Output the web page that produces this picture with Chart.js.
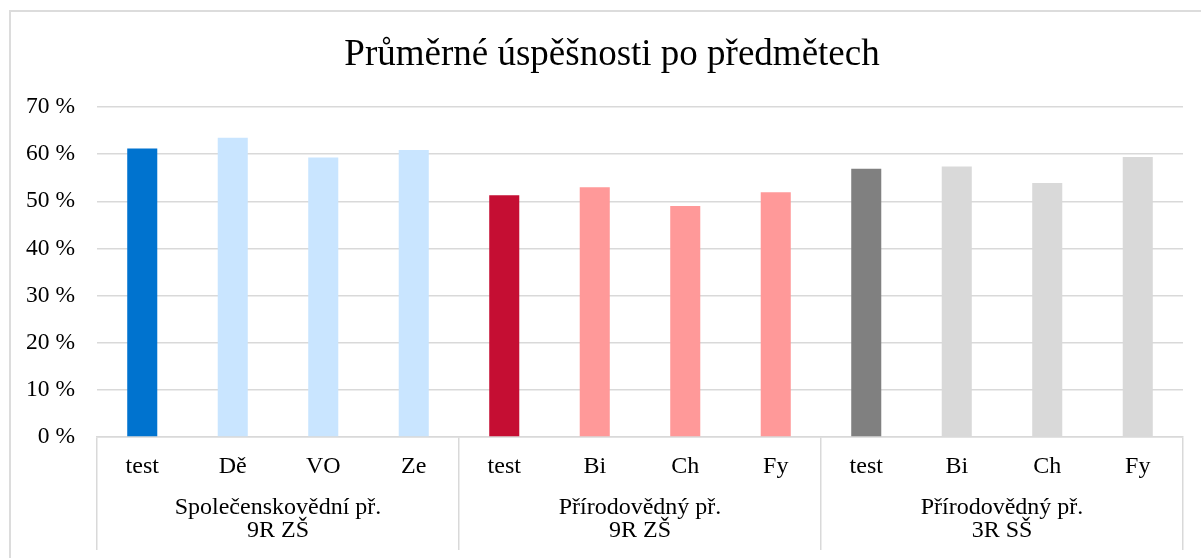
<!DOCTYPE html>
<html>
<head>
<meta charset="utf-8">
<script src="https://cdn.jsdelivr.net/npm/chart.js@4/dist/chart.umd.min.js"></script>
<style>
  html, body { margin: 0; padding: 0; background: #fff; overflow: hidden; width: 1201px; height: 558px; }
  #wrap { position: relative; width: 1201px; height: 558px; overflow: hidden; }
  #c { position: absolute; left: 0; top: 0; }
  #frame { position: absolute; left: 9px; top: 10px; width: 1300px; height: 700px;
           border-left: 2px solid #DCDCDC; border-top: 2px solid #DCDCDC; pointer-events: none; }
</style>
</head>
<body>
<div id="wrap">
  <canvas id="c" width="1224" height="558"></canvas>
  <div id="frame"></div>
</div>
<script>
const title = 'Průměrné úspěšnosti po předmětech';
const subjects = ['test', 'Dě', 'VO', 'Ze', 'test', 'Bi', 'Ch', 'Fy', 'test', 'Bi', 'Ch', 'Fy'];
const groups = [
  ['Společenskovědní př.', '9R ZŠ'],
  ['Přírodovědný př.', '9R ZŠ'],
  ['Přírodovědný př.', '3R SŠ']
];
const values = [61.2, 63.5, 59.3, 60.9, 51.3, 53.0, 49.0, 51.9, 56.9, 57.4, 53.9, 59.4];
const yTicks = [0, 10, 20, 30, 40, 50, 60, 70];

const barColors = ['#0073CF', '#C9E5FF', '#C9E5FF', '#C9E5FF',
                   '#C50E33', '#FF9999', '#FF9999', '#FF9999',
                   '#808080', '#D9D9D9', '#D9D9D9', '#D9D9D9'];
const GRID = '#D9D9D9';
const FONT = "'Liberation Serif', 'Times New Roman', serif";
const perGroup = subjects.length / groups.length;

new Chart(document.getElementById('c'), {
  type: 'bar',
  data: {
    labels: subjects,
    datasets: [{
      data: values,
      backgroundColor: barColors,
      borderWidth: 0,
      barPercentage: 0.332,
      categoryPercentage: 1.0,
      xAxisID: 'x',
      yAxisID: 'y'
    }]
  },
  options: {
    responsive: false,
    devicePixelRatio: 1,
    animation: false,
    events: [],
    layout: { padding: { left: 0, right: 0, top: 0, bottom: 0 } },
    plugins: {
      legend: { display: false },
      tooltip: { enabled: false },
      title: {
        display: true,
        text: title,
        color: '#000',
        font: { family: FONT, size: 37, weight: 'normal', lineHeight: 1.2 },
        padding: { top: 33, bottom: 29.6 }
      }
    },
    scales: {
      y: {
        min: 0,
        max: yTicks[yTicks.length - 1],
        afterBuildTicks: (s) => { s.ticks = yTicks.map(v => ({ value: v })); },
        afterFit: (s) => { s.width = 97; },
        border: { display: false },
        grid: { color: GRID, lineWidth: 1.5, drawTicks: false },
        ticks: {
          color: '#000',
          padding: 22,
          font: { family: FONT, size: 23.5 },
          callback: (v) => v + ' %'
        }
      },
      yr: {
        type: 'linear',
        position: 'right',
        display: true,
        afterFit: (s) => { s.width = 41; },
        border: { display: false },
        grid: { display: false, drawTicks: false },
        ticks: { display: false }
      },
      x: {
        position: 'bottom',
        offset: true,
        afterFit: (s) => { s.height = 45; },
        border: { display: true, color: GRID, width: 1.5 },
        grid: {
          display: true,
          drawOnChartArea: false,
          offset: true,
          drawTicks: true,
          tickLength: 45,
          lineWidth: 1.5,
          color: (ctx) => (ctx.index === undefined || ctx.index % perGroup === 0) ? GRID : 'rgba(0,0,0,0)'
        },
        ticks: {
          color: '#000',
          padding: -30,
          maxRotation: 0,
          autoSkip: false,
          font: { family: FONT, size: 24, lineHeight: 1.2 }
        }
      },
      x2: {
        type: 'category',
        position: 'bottom',
        labels: groups,
        offset: true,
        afterFit: (s) => { s.height = 76; },
        border: { display: false },
        grid: {
          display: true,
          drawOnChartArea: false,
          offset: true,
          drawTicks: true,
          tickLength: 68,
          lineWidth: 1.5,
          color: GRID
        },
        ticks: {
          color: '#000',
          padding: -68 + 14,
          maxRotation: 0,
          autoSkip: false,
          font: { family: FONT, size: 24, lineHeight: 0.96 }
        }
      }
    }
  }
});
</script>
</body>
</html>
